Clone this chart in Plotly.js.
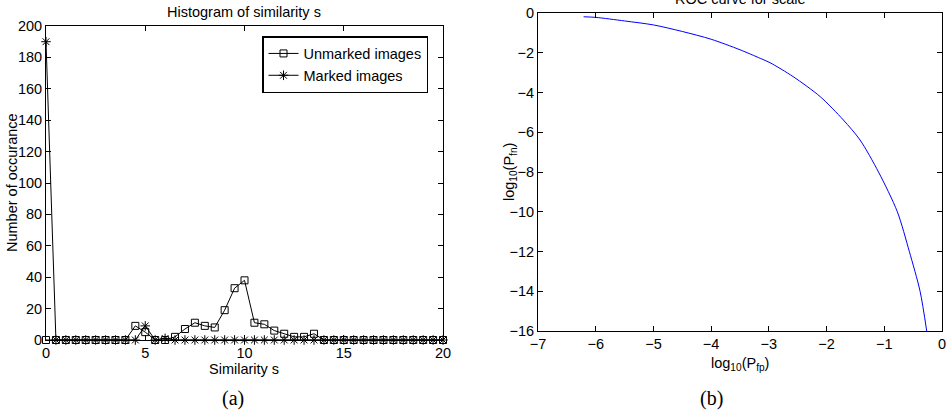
<!DOCTYPE html>
<html>
<head>
<meta charset="utf-8">
<script src="https://cdn.plot.ly/plotly-3.0.1.min.js"></script>
<style>html,body{margin:0;padding:0;background:#fff;}#chart{width:947px;height:414px;}</style>
</head>
<body>
<div id="chart"></div>
<script>
// Histogram data (similarity s, step 0.5)
const simS = [0,0.5,1,1.5,2,2.5,3,3.5,4,4.5,5,5.5,6,6.5,7,7.5,8,8.5,9,9.5,10,10.5,11,11.5,12,12.5,13,13.5,14,14.5,15,15.5,16,16.5,17,17.5,18,18.5,19,19.5,20];
const unmarked = [0,0,0,0,0,0,0,0,0,9,5,0,0,2,7,11,9,8,19,33,38,11,10,6,4,2,2,4,0,0,0,0,0,0,0,0,0,0,0,0,0];
const marked   = [190,0,0,0,0,0,0,0,0,0,9,0,1,0,0,0,0,0,0,0,0,0,0,0,0,0,0,0,0,0,0,0,0,0,0,0,0,0,0,0,0];

// ROC curve
const logPfp = [-6.21,-6.0,-5.5,-5.0,-4.5,-4.0,-3.5,-3.15,-2.98,-2.58,-2.11,-1.71,-1.42,-1.10,-0.774,-0.566,-0.38,-0.265];
const logPfn = [-0.19,-0.22,-0.40,-0.60,-0.93,-1.32,-1.85,-2.28,-2.50,-3.20,-4.21,-5.38,-6.39,-8.0,-10.0,-12.0,-14.0,-16.0];

const FAM = 'Liberation Sans';
const fnt = {family:FAM, size:14.5, color:'#000'};
const axBase = {showgrid:false, zeroline:false, showline:true, linecolor:'#000', linewidth:1,
  mirror:'allticks', ticks:'inside', ticklen:5, tickcolor:'#000', tickfont:fnt, fixedrange:true};

const traces = [
  {x:simS, y:unmarked, type:'scatter', mode:'lines+markers', name:'Unmarked images',
   line:{color:'#000', width:1}, marker:{symbol:'square-open', size:7, color:'#000', line:{width:1}},
   xaxis:'x', yaxis:'y', cliponaxis:false},
  {x:simS, y:marked, type:'scatter', mode:'lines+markers', name:'Marked images',
   line:{color:'#000', width:1}, marker:{symbol:'asterisk-open', size:8, color:'#000', line:{width:1, color:'#000'}},
   xaxis:'x', yaxis:'y', cliponaxis:false},
  {x:logPfp, y:logPfn, type:'scatter', mode:'lines', name:'ROC', showlegend:false,
   line:{color:'#0000ff', width:1, shape:'spline', smoothing:0.8}, xaxis:'x2', yaxis:'y2'}
];

const tf = {family:FAM, size:14.5, color:'#000'};
const layout = {
  width:947, height:414, margin:{l:0,r:0,t:0,b:0}, paper_bgcolor:'#fff', plot_bgcolor:'#fff',
  font:fnt,
  xaxis:Object.assign({}, axBase, {domain:[46/947, 443/947], range:[0,20], tickvals:[0,5,10,15,20], anchor:'y'}),
  yaxis:Object.assign({}, axBase, {domain:[1-340/414, 1-26/414], range:[0,200], dtick:20, anchor:'x'}),
  xaxis2:Object.assign({}, axBase, {domain:[538/947, 942/947], range:[-7,0], dtick:1, anchor:'y2'}),
  yaxis2:Object.assign({}, axBase, {domain:[1-331/414, 1-13/414], range:[-16,0], dtick:2, anchor:'x2'}),
  showlegend:true,
  legend:{x:428/947, xanchor:'right', y:1-36/414, yanchor:'top', bordercolor:'#000', borderwidth:1.5,
    bgcolor:'#fff', font:{family:FAM, size:14.5, color:'#000'}, tracegroupgap:0},
  annotations:[
    {text:'Histogram of similarity s', xref:'paper', yref:'paper', x:244/947, y:1-12/414, showarrow:false, xanchor:'center', yanchor:'middle', font:tf},
    {text:'Similarity s', xref:'paper', yref:'paper', x:244/947, y:1-369/414, showarrow:false, xanchor:'center', yanchor:'middle', font:tf},
    {text:'Number of occurance', xref:'paper', yref:'paper', x:12/947, y:1-183/414, showarrow:false, textangle:-90, xanchor:'center', yanchor:'middle', font:tf},
    {text:'ROC curve for scale', xref:'paper', yref:'paper', x:740/947, y:1+1/414, showarrow:false, xanchor:'center', yanchor:'middle', font:tf},
    {text:'log<sub>10</sub>(P<sub>fp</sub>)', xref:'paper', yref:'paper', x:740/947, y:1-364/414, showarrow:false, xanchor:'center', yanchor:'middle', font:tf},
    {text:'log<sub>10</sub>(P<sub>fn</sub>)', xref:'paper', yref:'paper', x:510/947, y:1-172/414, showarrow:false, textangle:-90, xanchor:'center', yanchor:'middle', font:tf},
    {text:'(a)', xref:'paper', yref:'paper', x:233/947, y:1-398/414, showarrow:false, xanchor:'center', yanchor:'middle', font:{family:'Liberation Serif', size:20, color:'#000'}},
    {text:'(b)', xref:'paper', yref:'paper', x:711/947, y:1-398/414, showarrow:false, xanchor:'center', yanchor:'middle', font:{family:'Liberation Serif', size:20, color:'#000'}}
  ]
};

Plotly.newPlot('chart', traces, layout, {displayModeBar:false, staticPlot:true});
</script>
</body>
</html>
